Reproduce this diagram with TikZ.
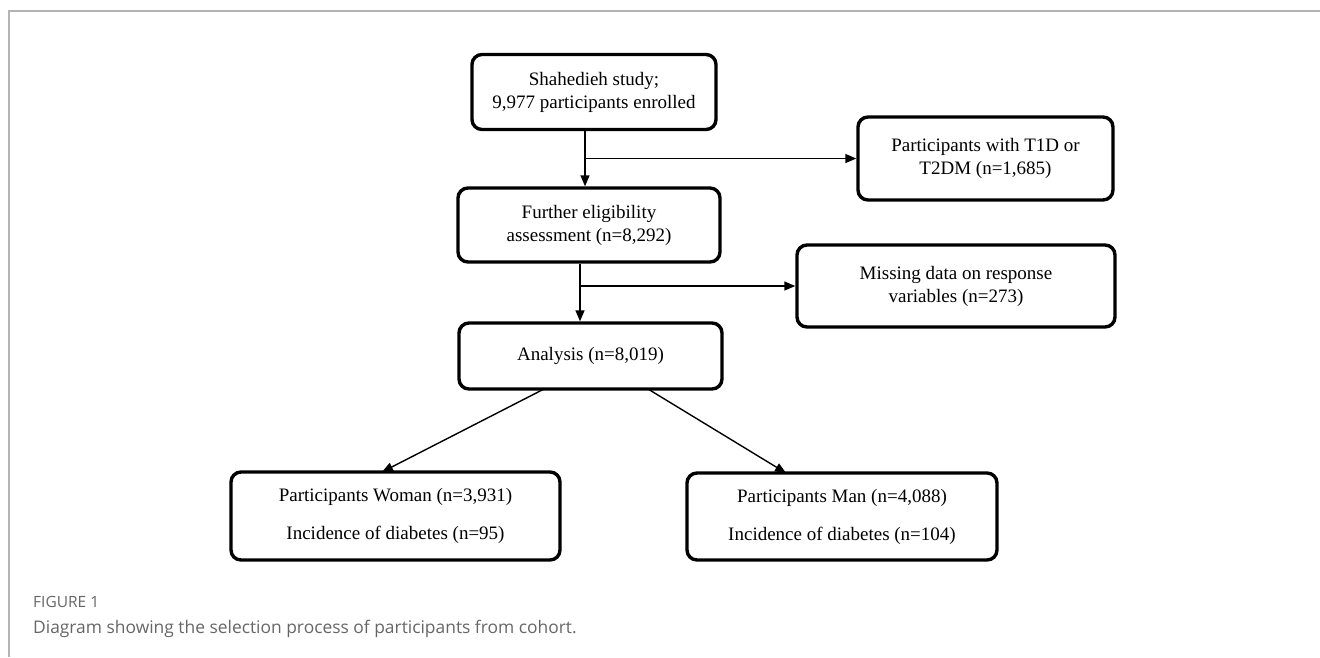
\documentclass[tikz,border=0pt]{standalone}
\usepackage{fontspec}
\setmainfont{Liberation Serif}
\newfontfamily\capfont{Open Sans}
\usetikzlibrary{arrows.meta}
\definecolor{framegray}{HTML}{B4B4B4}
\definecolor{capgray}{HTML}{666666}
\tikzset{
  box/.style={draw=black, line width=3.4pt, rounded corners=10pt, align=center,
    inner sep=0pt, font=\fontsize{19}{23}\selectfont},
  conn/.style={draw=black, line width=1.4pt},
  arr/.style={conn, -{Triangle[length=11pt,width=9pt]}},
}
\begin{document}
\begin{tikzpicture}[x=1pt,y=-1pt]
\useasboundingbox (0,0) rectangle (1320,657);
\draw[framegray, line width=1.5pt] (9,657) -- (9,11) -- (1320,11);

\node[box, minimum width=244pt, minimum height=75pt] (s) at (594,92)
  {Shahedieh study;\\9,977 participants enrolled};
\node[box, minimum width=255pt, minimum height=83pt] (t) at (985.5,158.5)
  {Participants with T1D or\\T2DM (n=1,685)};
\node[box, minimum width=262pt, minimum height=74pt] (f) at (589,225)
  {Further eligibility\\assessment (n=8,292)};
\node[box, minimum width=318pt, minimum height=82pt] (m) at (956,286)
  {Missing data on response\\variables (n=273)};
\node[box, minimum width=263pt, minimum height=66pt] (a) at (590.5,356)
  {Analysis (n=8,019)};
\node[box, minimum width=329pt, minimum height=88pt] (w) at (395.5,516)
  {Participants Woman (n=3,931)\\[15pt]Incidence of diabetes (n=95)};
\node[box, minimum width=310pt, minimum height=87pt] (n) at (842,516.5)
  {Participants Man (n=4,088)\\[15pt]Incidence of diabetes (n=104)};

% connectors
\coordinate (b1) at (585,158.5);
\coordinate (b2) at (580,286);
\draw[arr] (s.south -| b1) -- (f.north -| b1);
\draw[arr] (b1) -- (t.west);
\draw[arr] (f.south -| b2) -- (a.north -| b2);
\draw[arr] (b2) -- (m.west);
\coordinate (al) at (544,389);
\coordinate (ar) at (648,389);
\coordinate (wt) at (382,472);
\coordinate (mt) at (786,473);
\draw[arr] (al) -- (wt);
\draw[arr] (ar) -- (mt);

\node[anchor=base west, inner sep=0pt, text=capgray, font=\capfont\fontsize{15.5}{18}\selectfont] (cap1) at (33,607) {FIGURE 1};
\node[anchor=base west, inner sep=0pt, text=capgray, font=\capfont\fontsize{17.4}{20}\selectfont] (cap2) at (33,633) {Diagram showing the selection process of participants from cohort.};
\end{tikzpicture}
\end{document}
